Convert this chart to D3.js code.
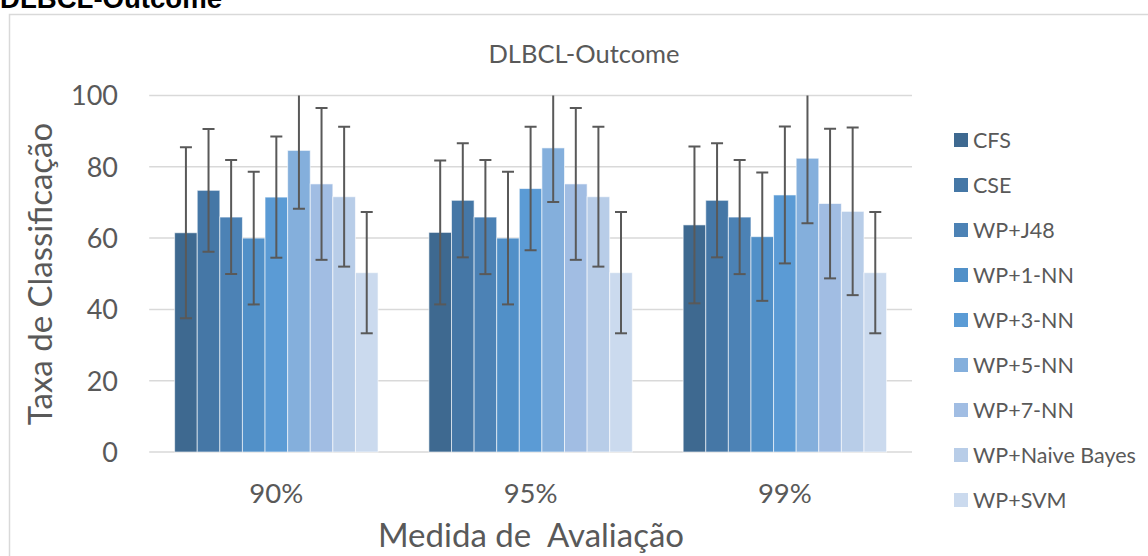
<!DOCTYPE html>
<html><head><meta charset="utf-8">
<script src="https://cdn.jsdelivr.net/npm/d3@7"></script>
<style>body{margin:0;background:#fff;} svg{display:block;}</style>
</head><body>
<svg id="c" width="1148" height="556"></svg>
<script>
const categories = ["90%", "95%", "99%"];
const seriesNames = ["CFS", "CSE", "WP+J48", "WP+1-NN", "WP+3-NN", "WP+5-NN", "WP+7-NN", "WP+Naive Bayes", "WP+SVM"];
const seriesColors = ["#3e6990", "#4577a6", "#4c82b5", "#5190c8", "#5b9bd5", "#84afdc", "#a1bde3", "#b8cde8", "#cbdaee"];
const means = [
  [61.5, 61.6, 63.7],
  [73.4, 70.6, 70.6],
  [65.9, 65.9, 65.9],
  [60.0, 60.0, 60.4],
  [71.5, 73.9, 72.1],
  [84.6, 85.3, 82.4],
  [75.2, 75.2, 69.7],
  [71.6, 71.6, 67.5],
  [50.3, 50.3, 50.3]
];
const errors = [
  [24.0, 20.2, 22.0],
  [17.2, 16.0, 16.0],
  [16.0, 16.0, 16.0],
  [18.6, 18.6, 18.0],
  [17.0, 17.3, 19.2],
  [16.4, 15.2, 18.2],
  [21.3, 21.3, 21.0],
  [19.6, 19.6, 23.5],
  [17.0, 17.0, 17.0]
];
const yTicks = [0, 20, 40, 60, 80, 100];

const svg = d3.select("#c");
const font = "Lato, 'Open Sans', sans-serif";
const textCol = "#595959";

// outer border
svg.append("rect").attr("x", 9.5).attr("y", 14.5).attr("width", 1160).attr("height", 560)
  .attr("fill", "none").attr("stroke", "#d9d9d9").attr("stroke-width", 1.5);

// heading (partly cut off at the top, as in the reference)
svg.append("text").attr("x", 0).attr("y", 8).text("DLBCL-Outcome")
  .attr("font-family", "'Liberation Sans', Arial, sans-serif").attr("font-weight", "bold")
  .attr("font-size", 28).attr("fill", "#000").attr("textLength", 222).attr("lengthAdjust", "spacingAndGlyphs");

const pLeft = 149.2, pRight = 912, pTop = 95.5, pBottom = 452;
const x0 = d3.scaleBand().domain(categories).range([pLeft, pRight]).paddingInner(0.2).paddingOuter(0.1);
const x1 = d3.scaleBand().domain(seriesNames).range([0, x0.bandwidth()]);
const y = d3.scaleLinear().domain([0, 100]).range([pBottom, pTop]);

// gridlines
svg.append("g").selectAll("line").data(yTicks).join("line")
  .attr("x1", pLeft).attr("x2", pRight).attr("y1", d => y(d)).attr("y2", d => y(d))
  .attr("stroke", "#d9d9d9").attr("stroke-width", 1.5);

// y axis labels
const yAxis = d3.axisLeft(y).tickValues(yTicks).tickSize(0).tickPadding(0);
const yg = svg.append("g").attr("transform", `translate(118,0)`).call(yAxis);
yg.select(".domain").remove();
yg.selectAll("text").attr("font-family", font).attr("font-size", 27).attr("fill", textCol).attr("dy", "0.35em");

// x axis labels
const xAxis = d3.axisBottom(x0).tickSize(0).tickPadding(0);
const xg = svg.append("g").attr("transform", `translate(0,503)`).call(xAxis);
xg.select(".domain").remove();
xg.selectAll("text").attr("font-family", font).attr("font-size", 27.5).attr("fill", textCol).attr("dy", "0em");

// clip
svg.append("clipPath").attr("id", "pc").append("rect")
  .attr("x", pLeft).attr("y", pTop).attr("width", pRight - pLeft).attr("height", pBottom - pTop + 2);

const rows = [];
seriesNames.forEach((s, si) => categories.forEach((c, ci) => rows.push({s, si, c, v: means[si][ci], e: errors[si][ci]})));

svg.append("g").selectAll("rect").data(rows).join("rect")
  .attr("x", d => x0(d.c) + x1(d.s)).attr("width", x1.bandwidth())
  .attr("y", d => y(d.v)).attr("height", d => y(0) - y(d.v))
  .attr("fill", d => seriesColors[d.si])
  .attr("stroke", "#ffffff").attr("stroke-opacity", 0.6).attr("stroke-width", 1);

const eg = svg.append("g").attr("clip-path", "url(#pc)").attr("stroke", "#595959").attr("stroke-width", 2);
const cap = 6;
rows.forEach(d => {
  const cx = x0(d.c) + x1(d.s) + x1.bandwidth() / 2;
  const yt = y(d.v + d.e), yb = y(d.v - d.e);
  eg.append("line").attr("x1", cx).attr("x2", cx).attr("y1", yt).attr("y2", yb);
  eg.append("line").attr("x1", cx - cap).attr("x2", cx + cap).attr("y1", yt).attr("y2", yt);
  eg.append("line").attr("x1", cx - cap).attr("x2", cx + cap).attr("y1", yb).attr("y2", yb);
});

// chart title
svg.append("text").attr("x", 584).attr("y", 63).attr("text-anchor", "middle")
  .attr("font-family", font).attr("font-size", 25.5).attr("fill", textCol).text("DLBCL-Outcome");

// axis titles
svg.append("text").attr("transform", "translate(52,274) rotate(-90)").attr("text-anchor", "middle")
  .attr("font-family", font).attr("font-size", 33).attr("fill", textCol).text("Taxa de Classificação");
svg.append("text").attr("x", 531).attr("y", 547).attr("text-anchor", "middle").attr("xml:space", "preserve")
  .style("white-space", "pre")
  .attr("font-family", font).attr("font-size", 33).attr("fill", textCol).text("Medida de  Avaliação");

// legend
const lg = svg.append("g");
seriesNames.forEach((s, i) => {
  const cy = 140 + i * 45;
  lg.append("rect").attr("x", 954).attr("y", cy - 7).attr("width", 14).attr("height", 14).attr("fill", seriesColors[i]);
  lg.append("text").attr("x", 973).attr("y", cy).attr("dy", "0.35em")
    .attr("font-family", font).attr("font-size", 21.5).attr("fill", textCol).text(s);
});
</script>
</body></html>
